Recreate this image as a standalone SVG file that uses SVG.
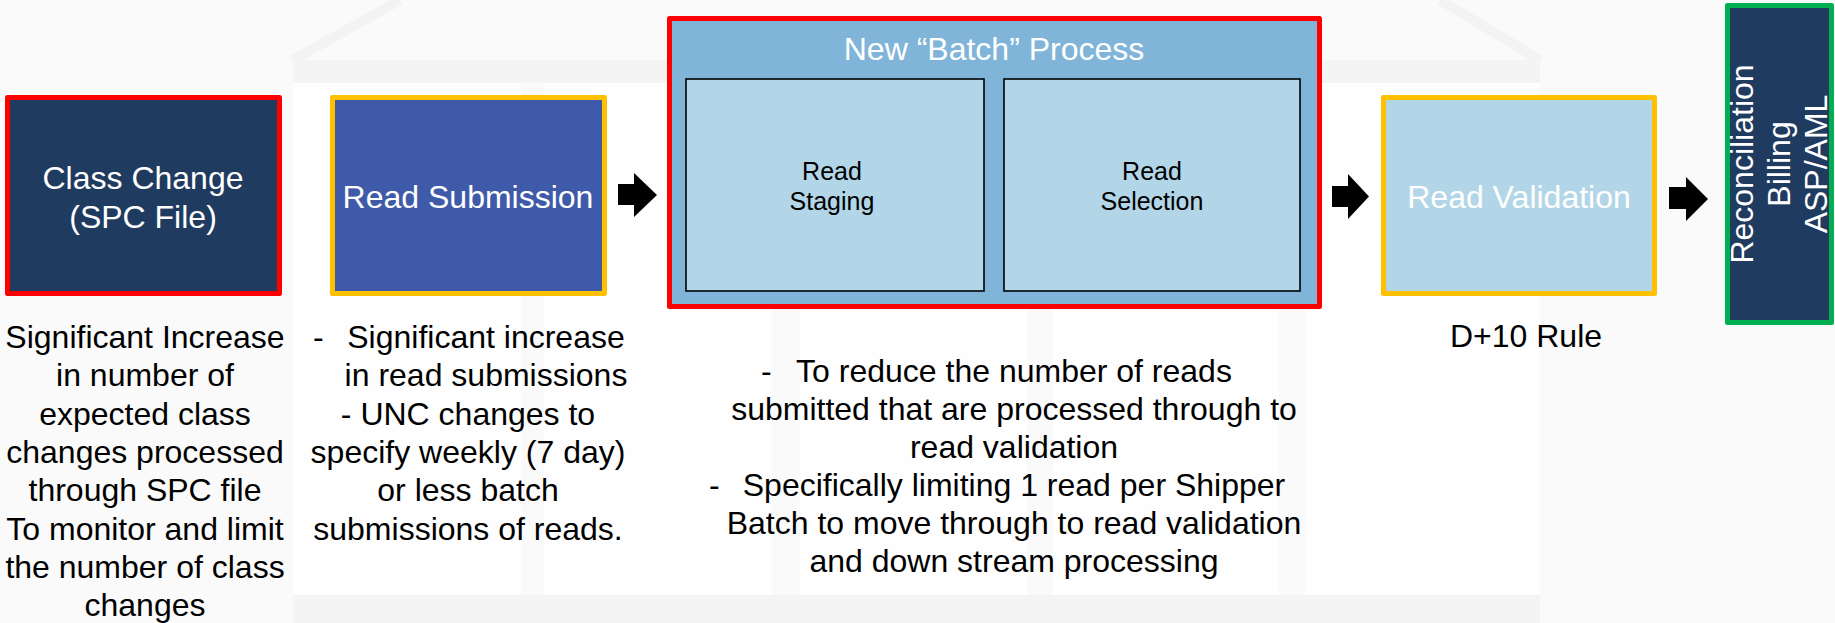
<svg xmlns="http://www.w3.org/2000/svg" width="1835" height="623" viewBox="0 0 1835 623">
<style>
text{font-family:"Liberation Sans",Arial,Helvetica,sans-serif;}
.lbl{font-size:32px;fill:#FFFFFF;text-anchor:middle}
.sub{font-size:25px;fill:#000000;text-anchor:middle}
.note{font-size:32px;fill:#000000;text-anchor:middle}
.dash{font-size:32px;fill:#000000}
.box{stroke-width:5;stroke-linejoin:round}
.inner{fill:#B2D6E7;stroke:#000000;stroke-width:1.6}
.arrow{fill:#000000}
.pillar{fill:#FEFEFE}
.band{fill:#F4F4F4}
</style>
<g id="background">
<rect x="0" y="0" width="1835" height="623" fill="#FAFAFA"/>
<polyline points="293,60 400,0" fill="none" stroke="#F3F3F3" stroke-width="10"/>
<polyline points="1440,0 1540,60" fill="none" stroke="#F3F3F3" stroke-width="10"/>
<rect class="band" x="293" y="60" width="1247" height="23"/>
<rect class="pillar" x="293" y="83" width="228" height="512"/>
<rect class="pillar" x="544" y="83" width="228" height="512"/>
<rect class="pillar" x="800" y="83" width="227" height="512"/>
<rect class="pillar" x="1053" y="83" width="226" height="512"/>
<rect class="pillar" x="1305" y="83" width="235" height="512"/>
<rect class="band" x="293" y="595" width="1247" height="28"/>
</g>
<g id="connectors">
<polygon class="arrow" points="618,184 634,184 634,173 657,195 634,217 634,205 618,205"/>
<polygon class="arrow" points="1332,186 1348,186 1348,174 1369,196.5 1348,219 1348,207 1332,207"/>
<polygon class="arrow" points="1669,187 1686,187 1686,177 1708,199 1686,221 1686,209 1669,209"/>
</g>
<g id="class-change">
<rect class="box" x="7.5" y="97.5" width="272" height="196" fill="#1F3B5F" stroke="#FF0000"/>
<text class="lbl" x="143" y="189">Class Change</text>
<text class="lbl" x="143" y="228">(SPC File)</text>
</g>
<g id="read-submission">
<rect class="box" x="332.5" y="97.5" width="272" height="196" fill="#3F5AA8" stroke="#FFC000"/>
<text class="lbl" x="468" y="208">Read Submission</text>
</g>
<g id="batch-process">
<rect class="box" x="669.5" y="18.5" width="650" height="288" fill="#80B5D9" stroke="#FF0000"/>
<text class="lbl" x="994" y="60">New “Batch” Process</text>
</g>
<g id="read-staging">
<rect class="inner" x="686" y="79" width="298" height="212"/>
<text class="sub" x="832" y="180">Read</text>
<text class="sub" x="832" y="210">Staging</text>
</g>
<g id="read-selection">
<rect class="inner" x="1004" y="79" width="296" height="212"/>
<text class="sub" x="1152" y="180">Read</text>
<text class="sub" x="1152" y="210">Selection</text>
</g>
<g id="read-validation">
<rect class="box" x="1383.5" y="97.5" width="271" height="196" fill="#B2D6E7" stroke="#FFC000"/>
<text class="lbl" x="1519" y="208">Read Validation</text>
</g>
<g id="reconciliation">
<rect class="box" x="1727.5" y="5.5" width="104" height="317" fill="#1F3B5F" stroke="#00B050"/>
<text class="lbl" transform="translate(1753,164) rotate(-90)">Reconciliation</text>
<text class="lbl" transform="translate(1790,164) rotate(-90)">Billing</text>
<text class="lbl" transform="translate(1827,164) rotate(-90)">ASP/AML</text>
</g>
<g id="note-class-change">
<text class="note" x="145" y="348">Significant Increase</text>
<text class="note" x="145" y="386">in number of</text>
<text class="note" x="145" y="425">expected class</text>
<text class="note" x="145" y="463">changes processed</text>
<text class="note" x="145" y="501">through SPC file</text>
<text class="note" x="145" y="540">To monitor and limit</text>
<text class="note" x="145" y="578">the number of class</text>
<text class="note" x="145" y="616">changes</text>
</g>
<g id="note-read-submission">
<text class="dash" x="313" y="348">-</text>
<text class="note" x="486" y="348">Significant increase</text>
<text class="note" x="486" y="386">in read submissions</text>
<text class="note" x="468" y="425">- UNC changes to</text>
<text class="note" x="468" y="463">specify weekly (7 day)</text>
<text class="note" x="468" y="501">or less batch</text>
<text class="note" x="468" y="540">submissions of reads.</text>
</g>
<g id="note-batch">
<text class="dash" x="761" y="382">-</text>
<text class="note" x="1014" y="382">To reduce the number of reads</text>
<text class="note" x="1014" y="420">submitted that are processed through to</text>
<text class="note" x="1014" y="458">read validation</text>
<text class="dash" x="709" y="496">-</text>
<text class="note" x="1014" y="496">Specifically limiting 1 read per Shipper</text>
<text class="note" x="1014" y="534">Batch to move through to read validation</text>
<text class="note" x="1014" y="572">and down stream processing</text>
</g>
<g id="note-read-validation">
<text class="note" x="1526" y="347">D+10 Rule</text>
</g>
</svg>
